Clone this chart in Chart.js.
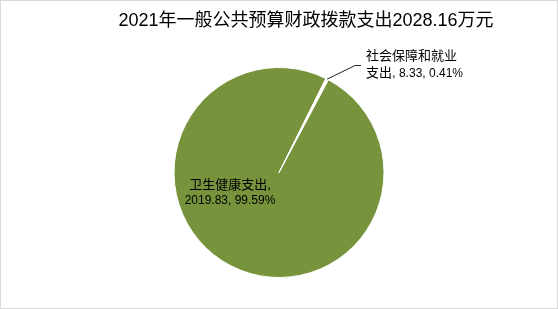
<!DOCTYPE html>
<html>
<head>
<meta charset="utf-8">
<script src="https://cdn.jsdelivr.net/npm/chart.js@4"></script>
<style>
  html, body { margin: 0; padding: 0; background: #fff; }
  #wrap { width: 558px; height: 309px; box-sizing: border-box; border: 1px solid #d9d9d9; }
  #grafica { display: block; }
</style>
</head>
<body>
<div id="wrap"><canvas id="grafica" width="556" height="307"></canvas></div>
<script>
// datos del gráfico
const titulo = '2021年一般公共预算财政拨款支出2028.16万元';
const categorias = ['卫生健康支出', '社会保障和就业支出'];
const valores = [2019.83, 8.33];
const porcentajes = ['99.59%', '0.41%'];
const colores = ['#77933C', '#FFFFFF'];

const FUENTE = "'Liberation Sans', 'Noto Sans CJK SC', sans-serif";

// título y etiquetas dibujados a mano (posiciones ajustadas a la referencia)
const etiquetasPlugin = {
    id: 'etiquetas',
    afterDraw(chart) {
        const ctx = chart.ctx;
        const meta = chart.getDatasetMeta(0);
        ctx.save();
        ctx.fillStyle = '#000';
        ctx.textBaseline = 'middle';

        // título
        ctx.font = "18px " + FUENTE;
        ctx.textAlign = 'center';
        ctx.fillText(titulo, 305, 20);

        // etiqueta grande, dentro de la rebanada
        const a0 = meta.data[0];
        ctx.font = "13px " + FUENTE;
        ctx.fillText(categorias[0] + ',', a0.x - 49, a0.y + 13);
        ctx.font = "12px " + FUENTE;
        ctx.fillText(valores[0].toFixed(2) + ', ' + porcentajes[0], a0.x - 49, a0.y + 28);

        // etiqueta pequeña con línea guía
        const a1 = meta.data[1];
        const mid = (a1.startAngle + a1.endAngle) / 2;
        const px = a1.x + a1.outerRadius * Math.cos(mid);
        const py = a1.y + a1.outerRadius * Math.sin(mid);
        const ex = a1.x + 76, ey = a1.y - 107;
        ctx.strokeStyle = '#262626';
        ctx.lineWidth = 1;
        ctx.beginPath();
        ctx.moveTo(px, py);
        ctx.lineTo(ex, ey);
        ctx.lineTo(ex + 6, ey);
        ctx.stroke();

        ctx.textAlign = 'left';
        ctx.font = "13px " + FUENTE;
        ctx.fillText('社会保障和就业', a1.x + 87, a1.y - 116);
        ctx.fillText('支出,', a1.x + 87, a1.y - 99);
        const w = ctx.measureText('支出,').width;
        ctx.font = "12px " + FUENTE;
        ctx.fillText(' ' + valores[1].toFixed(2) + ', ' + porcentajes[1], a1.x + 87 + w, a1.y - 99);
        ctx.restore();
    }
};

new Chart(document.getElementById('grafica'), {
    type: 'pie',
    data: {
        labels: categorias,
        datasets: [{
            data: valores,
            backgroundColor: colores,
            borderColor: '#FFFFFF',
            borderWidth: 1
        }]
    },
    options: {
        responsive: false,
        animation: false,
        rotation: 28,
        layout: { padding: { top: 66, bottom: 30, left: 0, right: 0 } },
        plugins: {
            legend: { display: false },
            tooltip: { enabled: false },
            title: { display: false }
        }
    },
    plugins: [etiquetasPlugin]
});
</script>
</body>
</html>
